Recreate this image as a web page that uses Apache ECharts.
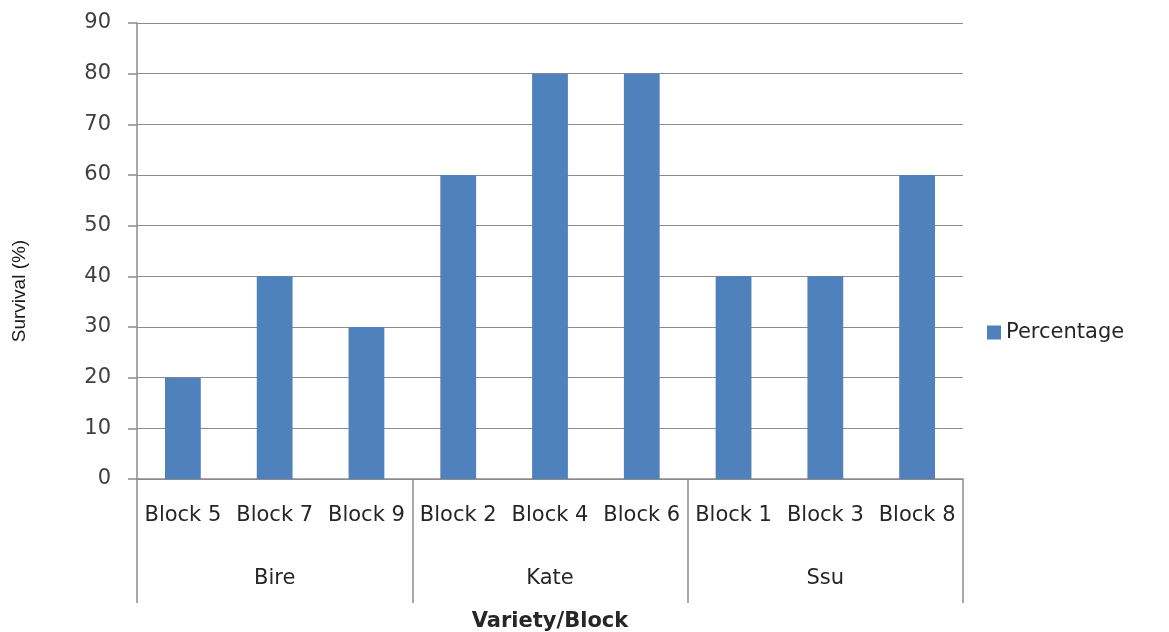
<!DOCTYPE html>
<html><head><meta charset="utf-8">
<script src="https://cdn.jsdelivr.net/npm/echarts@6/dist/echarts.min.js"></script>
<style>html,body{margin:0;padding:0;background:#fff}#c{width:1169px;height:632px}</style>
</head><body><div id="c"></div>
<script>
const blocks = ['Block 5','Block 7','Block 9','Block 2','Block 4','Block 6','Block 1','Block 3','Block 8'];
const varieties = ['Bire','Kate','Ssu'];
const percentage = [20,40,30,60,80,80,40,40,60];
const yTicks = {min:0, max:90, interval:10};

const chart = echarts.init(document.getElementById('c'));
const F = 'DejaVu Sans';
chart.setOption({
  animation:false,
  backgroundColor:'#fff',
  grid:{left:137, right:206, top:23, bottom:153, outerBoundsMode:'none', containLabel:false},
  legend:{
    data:['Percentage'], orient:'vertical', left:982, top:317, icon:'rect',
    itemWidth:14, itemHeight:14, itemGap:0,
    textStyle:{fontFamily:F, fontSize:21, color:'#262626'}
  },
  xAxis:[{
    type:'category', data:blocks, position:'bottom',
    axisLine:{show:true, lineStyle:{color:'#8c8c8c', width:1.5}},
    axisTick:{show:false},
    axisLabel:{fontFamily:F, fontSize:21, color:'#262626', margin:26, interval:0},
    name:'Variety/Block', nameLocation:'middle', nameGap:132,
    nameTextStyle:{fontFamily:F, fontSize:21, fontWeight:'bold', color:'#262626'}
  },{
    type:'category', data:varieties, position:'bottom',
    axisLine:{show:false},
    axisTick:{show:true, length:124, lineStyle:{color:'#8c8c8c', width:1.5}},
    axisLabel:{fontFamily:F, fontSize:21, color:'#262626', margin:89, interval:0}
  }],
  yAxis:{
    type:'value', min:yTicks.min, max:yTicks.max, interval:yTicks.interval,
    axisLine:{show:true, lineStyle:{color:'#8c8c8c', width:1.5}},
    axisTick:{show:true, length:9, lineStyle:{color:'#8c8c8c', width:1.5}},
    splitLine:{lineStyle:{color:'#8c8c8c', width:1}},
    axisLabel:{fontFamily:F, fontSize:21, color:'#404040', margin:26},
    name:'Survival (%)', nameLocation:'middle', nameGap:108, nameRotate:90,
    nameTextStyle:{fontFamily:'Liberation Sans Narrow, Liberation Sans', fontSize:19, color:'#1a1a1a', padding:[0,80,0,0]}
  },
  series:[{
    name:'Percentage', type:'bar', data:percentage, barWidth:'39%',
    itemStyle:{color:'#4f81bd'}
  }]
});
</script></body></html>
